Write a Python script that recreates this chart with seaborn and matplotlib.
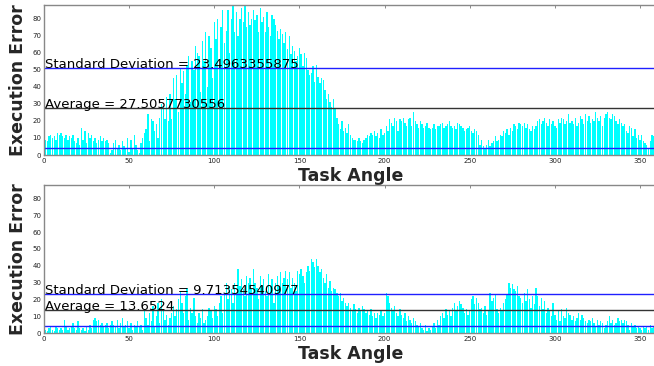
import numpy as np
import matplotlib
matplotlib.use('Agg')
import matplotlib.pyplot as plt
import seaborn as sns

# angles 0..359, one bar per degree
angles = list(range(360))

# execution error, top panel (rows of 10 degrees)
err_top = [
    10, 9, 8, 11, 12, 10, 11, 9, 13, 12,
    13, 11, 10, 12, 9, 11, 10, 12, 8, 7,
    10, 6, 16, 9, 14, 7, 13, 10, 12, 8,
    10, 7, 9, 11, 8, 10, 8, 9, 7, 1,
    3, 7, 9, 4, 6, 3, 8, 5, 4, 10,
    2, 9, 4, 12, 6, 3, 1, 7, 10, 13,
    15, 24, 8, 21, 20, 14, 18, 10, 22, 30,
    29, 21, 34, 20, 36, 21, 45, 33, 47, 25,
    51, 42, 49, 36, 53, 58, 31, 55, 50, 64,
    60, 58, 37, 67, 55, 72, 40, 70, 63, 45,
    78, 68, 80, 52, 75, 85, 66, 73, 85, 60,
    80, 88, 72, 84, 70, 80, 86, 78, 88, 75,
    84, 76, 80, 85, 79, 82, 72, 86, 78, 81,
    72, 84, 75, 70, 82, 80, 76, 73, 68, 74,
    71, 66, 72, 62, 70, 59, 64, 61, 55, 58,
    63, 59, 52, 60, 57, 50, 47, 48, 52, 43,
    53, 46, 42, 45, 44, 38, 33, 36, 31, 28,
    33, 27, 22, 18, 15, 20, 14, 16, 13, 18,
    12, 10, 9, 9, 8, 10, 8, 7, 9, 10,
    12, 11, 13, 12, 14, 11, 13, 10, 15, 12,
    13, 17, 14, 21, 19, 17, 22, 20, 14, 21,
    20, 22, 19, 17, 21, 22, 17, 25, 20, 18,
    16, 20, 18, 16, 17, 19, 16, 15, 16, 18,
    15, 17, 17, 18, 19, 16, 17, 18, 20, 17,
    16, 17, 15, 19, 18, 17, 16, 14, 15, 16,
    17, 14, 13, 15, 14, 12, 6, 9, 5, 4,
    6, 9, 5, 7, 8, 11, 8, 9, 12, 11,
    14, 13, 15, 12, 16, 14, 18, 17, 15, 19,
    18, 17, 19, 16, 18, 15, 14, 17, 15, 17,
    20, 21, 18, 20, 22, 19, 17, 21, 18, 20,
    17, 16, 21, 19, 22, 21, 18, 20, 24, 19,
    20, 18, 22, 17, 19, 23, 21, 18, 24, 20,
    23, 19, 21, 20, 25, 22, 20, 23, 17, 22,
    24, 25, 22, 21, 24, 23, 20, 18, 21, 19,
    17, 18, 14, 13, 17, 16, 11, 15, 10, 12,
    9, 12, 8, 7, 6, 4, 8, 12, 11, 13,
]

# execution error, bottom panel
err_bottom = [
    4, 2, 1, 3, 4, 2, 1, 4, 3, 2,
    3, 2, 8, 4, 2, 3, 4, 6, 3, 2,
    7, 3, 2, 3, 1, 4, 2, 5, 3, 8,
    9, 7, 8, 5, 6, 4, 5, 6, 3, 5,
    7, 5, 4, 8, 3, 6, 9, 4, 5, 7,
    3, 6, 2, 5, 4, 7, 4, 5, 2, 14,
    9, 5, 12, 7, 16, 4, 10, 18, 6, 20,
    13, 8, 11, 5, 9, 12, 16, 10, 14, 20,
    25, 18, 12, 22, 27, 8, 15, 12, 21, 10,
    6, 12, 9, 14, 6, 8, 10, 15, 13, 9,
    16, 14, 10, 18, 22, 12, 24, 30, 20, 28,
    26, 18, 30, 24, 38, 28, 32, 26, 22, 34,
    30, 33, 26, 38, 30, 27, 20, 34, 28, 32,
    25, 22, 35, 28, 32, 18, 30, 34, 28, 36,
    30, 33, 37, 32, 36, 27, 33, 30, 25, 37,
    35, 38, 34, 30, 36, 40, 37, 44, 42, 39,
    44, 40, 36, 38, 33, 30, 35, 27, 31, 25,
    27, 26, 24, 22, 24, 19, 21, 18, 16, 18,
    15, 13, 17, 14, 12, 15, 13, 16, 14, 12,
    13, 11, 14, 10, 12, 9, 12, 11, 13, 10,
    12, 24, 22, 18, 15, 13, 16, 12, 10, 14,
    11, 9, 12, 7, 10, 8, 6, 9, 7, 5,
    4, 6, 3, 2, 5, 1, 3, 2, 4, 6,
    3, 8, 5, 10, 12, 9, 14, 11, 13, 10,
    15, 18, 13, 16, 19, 17, 15, 12, 14, 11,
    13, 20, 22, 17, 21, 18, 14, 15, 12, 16,
    11, 13, 24, 19, 21, 23, 14, 12, 15, 13,
    18, 20, 23, 30, 27, 29, 26, 25, 28, 22,
    21, 18, 24, 19, 26, 20, 15, 22, 17, 27,
    22, 16, 21, 14, 19, 12, 15, 13, 10, 18,
    11, 8, 13, 7, 14, 10, 9, 15, 12, 11,
    8, 10, 7, 9, 12, 8, 11, 9, 7, 6,
    8, 7, 9, 6, 4, 8, 5, 7, 6, 3,
    5, 7, 10, 6, 8, 5, 6, 9, 7, 8,
    6, 8, 7, 5, 2, 6, 4, 5, 3, 4,
    3, 2, 4, 3, 4, 2, 5, 3, 4, 3,
]

# statistics printed on the chart
avg_top, std_top = 27.5057730556, 23.4963355875
avg_bottom, std_bottom = 13.6524, 9.71354540977
avg_labels = ['Average = 27.5057730556', 'Average = 13.6524']
std_labels = ['Standard Deviation = 23.4963355875', 'Standard Deviation = 9.71354540977']

x_ticks = [0, 50, 100, 150, 200, 250, 300, 350]
y_ticks = [0, 10, 20, 30, 40, 50, 60, 70, 80]

sns.set_style('white')
plt.rcParams['font.family'] = ['DejaVu Sans']
plt.rcParams['xtick.direction'] = 'in'
plt.rcParams['ytick.direction'] = 'in'

fig = plt.figure(figsize=(6.54, 3.66), dpi=100)
ax_top = fig.add_axes([44/654, 211/366, 613/654, 150/366])
ax_bot = fig.add_axes([44/654, 33/366, 613/654, 148/366])

panels = [(ax_top, err_top, avg_top, std_top, 0), (ax_bot, err_bottom, avg_bottom, std_bottom, 1)]
for ax, err, avg, std, i in panels:
    sns.barplot(x=angles, y=err, native_scale=True, color='#00ffff', saturation=1,
                width=0.8, errorbar=None, edgecolor='none', linewidth=0, ax=ax)
    ax.axhline(avg + std, color='#2020ff', lw=1)
    ax.axhline(avg, color='#333333', lw=1)
    ax.axhline(avg - std, color='#2020ff', lw=1)
    ax.text(0.5, avg + std, std_labels[i], fontsize=9.5, color='black')
    ax.text(0.5, avg, avg_labels[i], fontsize=9.5, color='black')
    ax.set_xlim(0, 360)
    ax.set_ylim(0, 88)
    ax.set_xticks(x_ticks)
    ax.set_xticklabels([str(t) for t in x_ticks])
    ax.set_yticks(y_ticks)
    ax.tick_params(labelsize=5, length=2, width=0.6, color='#777777', top=True, right=True,
                   labelcolor='#222222', pad=2)
    for sp in ax.spines.values():
        sp.set_color('#888888')
        sp.set_linewidth(1)
    ax.set_ylabel('Execution Error', fontsize=12.5, fontweight='bold', labelpad=4)
    ax.set_xlabel('Task Angle', fontsize=12.5, fontweight='bold', labelpad=2)

fig.savefig('out.png', dpi=100)
